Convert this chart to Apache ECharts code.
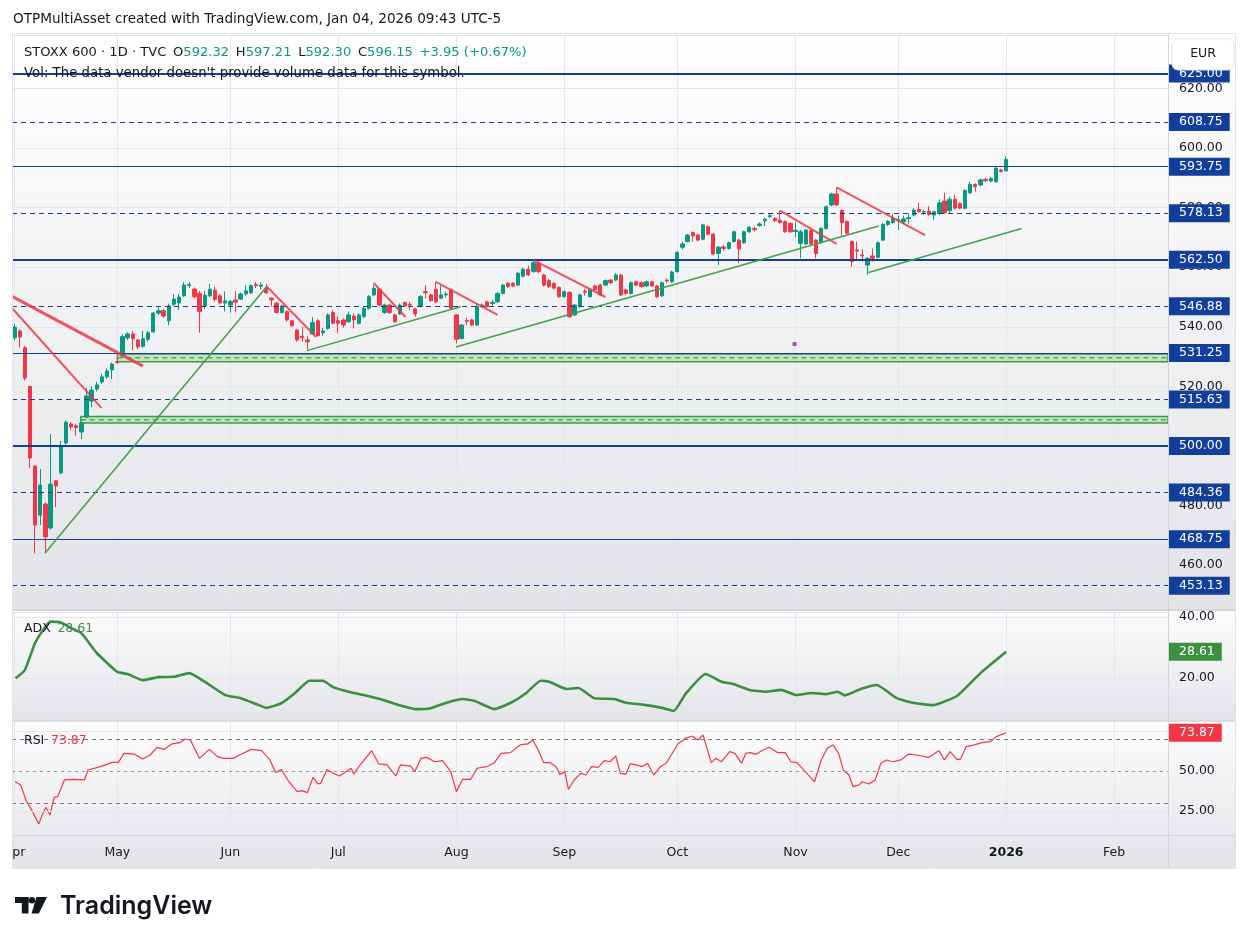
<!DOCTYPE html>
<html>
<head>
<meta charset="utf-8">
<script src="https://cdn.jsdelivr.net/npm/echarts@6/dist/echarts.min.js"></script>
<style>
  html, body { margin: 0; padding: 0; background: #fff; }
  #chart { width: 1248px; height: 944px; }
</style>
</head>
<body>
<div id="chart"></div>
<script>
// daily bars, 2025-04-01 .. 2026-01-02 (TVC calendar)
const opens = [536.3,538.6,533.0,520.0,493.3,476.8,480.5,472.5,488.3,491.0,
  501.0,507.4,506.8,504.7,509.7,515.1,519.1,521.5,523.2,525.5,
  528.3,530.2,536.3,537.6,535.6,533.5,535.8,538.3,544.6,545.4,
  542.0,547.6,548.0,550.4,553.9,552.7,551.2,547.0,550.4,552.3,
  550.4,548.0,547.3,549.0,549.3,551.0,551.4,554.2,553.6,553.0,
  549.6,547.9,544.8,545.1,542.0,538.9,536.8,535.6,537.6,542.0,
  538.0,539.5,544.8,542.0,542.3,541.7,543.6,541.2,543.4,546.2,
  550.7,552.6,544.8,547.3,544.0,544.3,548.1,547.6,546.0,546.8,
  551.8,550.7,552.6,549.6,550.7,552.4,544.0,536.1,542.1,542.3,
  540.6,546.8,548.4,547.8,548.4,551.2,554.6,554.6,554.0,557.0,
  559.3,558.5,561.3,557.4,555.5,554.5,553.2,550.1,551.5,544.0,
  546.8,551.9,550.1,553.7,554.0,554.0,555.7,555.7,557.4,552.4,
  551.2,555.1,554.8,553.7,555.1,553.7,550.4,555.7,555.1,558.5,
  566.7,568.6,571.6,570.8,569.4,573.6,571.1,564.6,566.8,566.3,
  568.6,569.1,568.2,571.9,573.0,574.0,575.6,577.0,576.4,575.8,
  575.3,574.7,572.0,568.0,567.8,572.3,569.1,568.2,573.0,580.9,
  584.6,579.0,575.3,568.6,565.8,564.1,560.7,563.8,563.3,569.1,
  574.3,575.0,575.7,575.2,576.3,577.5,579.4,578.5,578.9,577.5,
  578.0,582.2,579.0,582.8,581.4,579.8,585.0,587.8,587.6,589.5,
  588.9,588.7,592.6,592.32];
const closes = [539.9,536.6,522.8,496.0,473.5,486.9,469.5,487.2,486.6,500.0,
  508.0,506.4,506.2,507.7,516.8,518.8,520.5,523.2,525.2,527.5,
  528.0,536.7,537.6,536.0,533.3,536.0,538.0,544.6,545.4,543.6,
  547.0,549.3,550.0,554.0,554.2,550.1,545.1,550.6,552.6,549.2,
  548.0,548.7,548.5,548.3,551.0,552.1,553.8,553.8,554.0,551.4,
  549.0,544.8,547.0,542.3,540.4,535.6,536.4,535.0,541.4,537.0,
  538.6,544.0,541.2,541.2,540.6,544.0,542.3,544.0,546.2,550.1,
  552.9,547.3,547.3,544.8,541.7,547.3,547.0,547.3,544.3,550.1,
  551.4,548.8,548.4,550.7,551.0,546.2,535.8,540.6,541.9,540.6,
  546.8,547.3,546.8,548.2,551.2,554.0,553.5,553.7,558.0,559.3,
  557.4,561.5,558.5,554.0,553.5,553.0,550.1,551.8,543.4,547.3,
  550.7,551.6,552.4,552.4,550.7,555.5,554.8,557.4,550.7,551.2,
  554.8,554.0,553.5,555.1,553.7,550.1,554.8,555.4,558.4,564.9,
  567.8,570.8,570.5,569.1,574.2,571.1,564.4,566.7,566.3,568.2,
  571.9,566.1,571.9,573.4,572.6,574.5,576.1,577.3,575.6,575.0,
  571.9,571.9,572.4,571.9,572.5,567.8,564.6,573.0,580.3,584.6,
  580.9,575.0,571.4,561.9,565.4,563.8,563.0,563.0,568.2,574.4,
  575.4,576.4,576.0,576.2,576.6,579.2,578.6,578.7,577.7,578.6,
  581.6,578.3,582.8,579.8,579.8,585.7,587.8,587.0,589.3,589.0,
  589.8,593.2,592.1,596.15];
const lows = [535.5,533.0,522.0,492.5,464.0,473.5,464.0,472.0,479.5,490.5,
  500.5,505.5,503.5,502.3,509.5,513.0,518.3,520.8,522.5,522.5,
  527.5,529.5,535.5,532.2,532.5,533.0,535.0,538.0,544.0,543.0,
  540.5,547.0,545.6,550.0,553.0,549.5,538.0,546.0,550.0,548.5,
  547.5,545.1,544.8,545.0,549.0,550.5,551.0,553.0,552.5,551.0,
  546.8,544.5,544.5,541.7,540.0,535.0,535.0,532.4,537.3,536.8,
  537.0,539.0,540.8,537.8,539.7,541.3,539.5,540.8,543.0,545.8,
  550.3,547.0,544.3,544.3,541.3,544.0,546.6,545.6,543.4,546.5,
  549.5,548.4,548.0,549.3,549.8,545.9,534.4,535.8,540.6,540.2,
  540.3,546.4,546.4,547.0,548.0,550.9,553.1,553.3,553.7,556.6,
  557.0,558.2,558.0,553.6,553.0,552.5,549.8,549.8,543.0,543.6,
  546.4,550.5,549.8,552.0,550.3,553.7,554.4,555.3,550.3,550.8,
  550.8,553.6,553.1,553.3,553.3,549.7,550.0,554.8,554.8,558.2,
  566.0,568.3,568.6,568.7,569.0,570.7,564.0,560.7,565.5,565.9,
  568.2,561.3,567.8,571.5,572.0,573.6,573.8,576.5,575.2,574.6,
  571.5,571.5,570.0,563.0,567.4,567.4,563.0,567.8,572.6,580.5,
  580.5,570.3,571.0,560.2,562.4,561.9,557.4,561.9,562.9,568.7,
  573.9,574.6,572.5,574.5,574.5,577.0,578.3,577.5,577.3,575.8,
  577.5,577.9,578.0,579.4,579.4,579.4,584.6,585.4,587.2,588.6,
  588.5,588.3,591.8,592.30];
const highs = [541.0,539.2,533.5,520.2,493.5,492.3,481.0,504.0,488.6,501.7,
  508.6,508.0,507.5,508.0,519.5,520.0,521.5,524.2,526.0,528.0,
  529.0,537.5,538.2,538.6,536.0,538.6,538.6,545.0,546.5,546.0,
  547.8,551.0,551.0,555.0,555.0,553.2,552.0,552.0,554.4,553.5,
  551.0,551.9,549.0,551.9,551.5,554.0,554.2,555.0,555.0,554.4,
  550.0,548.3,547.5,545.5,542.3,539.3,540.0,536.9,543.2,542.5,
  539.6,544.5,545.6,543.4,542.8,545.1,544.5,544.5,546.8,550.6,
  554.0,553.0,547.8,547.8,544.5,547.8,548.5,548.4,546.4,550.6,
  554.0,551.2,555.1,553.9,551.8,552.8,544.3,541.0,543.0,542.7,
  547.9,547.8,548.8,549.0,551.6,554.4,555.0,555.0,558.4,559.8,
  560.5,562.4,562.0,557.8,556.0,555.0,553.6,552.2,552.0,547.7,
  551.2,552.8,552.8,554.1,554.4,555.9,556.1,558.0,557.8,552.8,
  555.2,555.5,555.2,555.5,555.5,554.1,555.2,556.2,558.8,565.5,
  568.6,571.2,572.0,571.2,574.6,574.0,571.5,567.1,567.5,568.6,
  572.3,569.5,572.3,573.8,573.6,575.0,576.6,578.0,576.8,579.0,
  575.7,575.1,575.0,572.5,572.9,572.7,569.5,573.4,580.7,585.0,
  586.8,579.4,575.7,569.0,568.6,566.0,563.4,566.3,568.6,574.8,
  575.8,577.8,577.3,577.3,578.0,579.8,581.6,579.3,580.5,579.0,
  582.8,585.0,583.7,584.3,581.8,586.2,588.7,588.1,589.8,589.9,
  590.4,593.8,593.0,597.21];

// [bar index, value]
const adxPoints = [[0.2,19.9],[2,22.6],[4,31.5],[6,36.8],[7,38.5],[9,38.2],[11,36.4],[13,34.7],[16,28.2],[20,22],
  [22,21.3],[25,19.3],[28,20.3],[31,20.4],[34,21.6],[37,18.8],[41,14.4],[44,13.4],[47,11.5],[49,10.2],
  [52,11.8],[54.6,15.1],[57.4,19.1],[60,19.1],[62,17],[65,15.5],[68,14.4],[71.7,12.8],[74.8,11.1],[77.9,9.8],
  [81,10.1],[84.1,11.9],[87.2,13.1],[89.5,12.5],[93.4,9.8],[96.5,11.8],[99.6,15.1],[102.4,19.1],[104.2,18.7],[107.4,16.4],
  [109.7,16.7],[112.8,13.4],[116.7,13.1],[119,11.9],[122.9,11.1],[126,10.2],[128.3,9.2],[130.6,14.8],[134.5,21.3],[137.6,18.8],
  [139.9,18],[143,16.1],[146.2,15.5],[149.2,16.1],[152.2,14.4],[155.2,15.1],[157.8,14.7],[160.2,15.5],[161.6,14.3],[164.7,16.4],
  [167.8,17.7],[171.7,13.4],[174.8,11.9],[178.7,11.1],[183.4,14.1],[188,21.6],[193,28.61]];
const rsiPoints = [[0.1,43.3],[1.2,41.3],[2.2,31.9],[3.5,24.6],[4.3,19.4],[4.7,16.9],[5.5,23.5],[6.1,27.3],[6.9,22.5],[7.7,33.5],
  [8.4,34],[9.7,44.4],[11.2,44.8],[13.6,44.4],[14.3,50.6],[16.7,52.7],[19,55.4],[20.2,55.4],[21.3,61],[23.3,60.6],
  [24.9,57.5],[26.4,60],[27.7,64.8],[29.1,63.5],[30.6,66.9],[32.2,67.7],[33.2,70],[34.2,69.4],[36,57.9],[37.9,63.5],
  [39.5,59],[40.7,57.9],[42.6,57.9],[43.8,60],[46.1,63.5],[48.1,62.7],[49.7,56.9],[50.8,49],[51.9,51],[53.4,43.3],
  [55,37.1],[55.9,37.7],[57,36.5],[58.1,46],[59,41.9],[59.6,42.3],[60.8,51],[62.1,48.5],[63.2,46.9],[64.3,49],
  [65.5,51.7],[66,48.1],[67,52.7],[68.3,57.9],[69.5,62.7],[70.9,54.4],[72.5,53.8],[74.2,46.9],[75.1,53.8],[77.1,53.1],
  [77.9,49.6],[79.1,57.9],[80.2,58.5],[81.8,55.8],[83.3,56.5],[84.9,49.6],[86,37.1],[87.2,44.8],[88.8,44.8],[90,51.7],
  [91.9,52.7],[93.4,55.2],[94.7,61],[96.5,61.5],[98.4,66.3],[99.9,66.9],[100.9,69.4],[101.9,63.1],[103,55.2],[104.3,55.2],
  [105.4,52.7],[106.1,47.9],[107.1,49.6],[107.8,38.5],[108.9,44.4],[110.2,48.5],[111.2,47.5],[112.3,52.7],[113.6,52.3],[114.8,56.5],
  [115.9,55.8],[117,59.4],[117.9,48.5],[119,48.1],[119.8,54.4],[121,53.8],[122.1,52.7],[123.2,54.8],[124.4,47.5],[125.7,52.7],
  [126.8,54.8],[127.8,60],[129.1,66.9],[130.6,70.4],[131.9,71.9],[133,69.4],[134,72.5],[135.6,55.2],[136.5,57.9],[137.6,55.8],
  [139.2,62.1],[140.2,61],[141.5,54.8],[142.3,61],[143.3,61.5],[144.3,60.4],[145.4,62.7],[146.9,64.8],[148.5,61.5],[150,61.5],
  [151.1,55.8],[152.3,55.2],[153.9,49.6],[155.1,45.4],[155.7,43.3],[157,56.9],[158.2,64.2],[159.3,66.3],[160.4,61],[161.3,50.6],
  [162.4,47.5],[163.2,40.2],[164.4,41.3],[165,43.3],[166.3,41.9],[167.5,44.4],[168.6,54.8],[169.7,56.9],[170.9,55.8],[172.5,56.9],
  [174,60.6],[175.6,60],[177.9,58.5],[179.9,62.7],[181,56.9],[182.1,62.1],[183.4,57.3],[184.1,57.3],[185.2,65.2],[186.8,66.3],
  [188.3,67.7],[189.9,68.3],[191.1,71.5],[193,73.87]];

// drawings
const levelsThick = [625, 562.5, 500];
const levelsThin = [593.75, 531.25, 468.75];
const levelsDashed = [608.75, 578.13, 546.88, 515.63, 484.36, 453.13];
const zones = [
  { from: 20, low: 528.3, mid: 529.6, high: 530.9 },
  { from: 12.9, low: 507.7, mid: 508.8, high: 509.9 }
];
const redLines = [
  [[-0.5, 550.2], [25, 526.8]],
  [[-0.5, 546.3], [16.9, 512.8]],
  [[49, 553.7], [58.7, 536.6]],
  [[69.9, 554.7], [76.1, 543.3]],
  [[82, 555.1], [94, 544.0]],
  [[101, 562.4], [115, 550.0]],
  [[149, 579.0], [160, 567.8]],
  [[160, 586.8], [177.2, 570.8]]
];
const greenLines = [
  [[5.9, 464.0], [49.1, 553.5]],
  [[56.9, 532.0], [86.8, 546.7]],
  [[85.9, 533.2], [168.2, 573.8]],
  [[166.2, 558.2], [196, 573.0]]
];
const marker = [[151.8, 534.2]];
const holidays = ['2025-04-18', '2025-04-21', '2025-12-25', '2025-12-26', '2026-01-01'];
const monthNames = ['Jan','Feb','Mar','Apr','May','Jun','Jul','Aug','Sep','Oct','Nov','Dec'];

const SLOTS = 225;
const dates = [];
for (let d = new Date(Date.UTC(2025, 3, 1)); dates.length < SLOTS; d.setUTCDate(d.getUTCDate() + 1)) {
  const wd = d.getUTCDay();
  const s = d.toISOString().slice(0, 10);
  if (wd === 0 || wd === 6 || holidays.includes(s)) continue;
  dates.push(s);
}
const monthStart = dates.map((s, i) => i === 0 || s.slice(5, 7) !== dates[i - 1].slice(5, 7));

const up = '#089981', down = '#f23645', blue = '#123e9c', gridColor = '#e4e6eb';
const font = '"DejaVu Sans", Roboto, sans-serif';
const fs = 12.5;

const candles = closes.map((c, i) => [opens[i], c, lows[i], highs[i]]);

const boxLabel = (bg, text) => ({
  show: true, position: 'end', distance: 1, formatter: text,
  color: '#fff', backgroundColor: bg, padding: [3, 7, 2, 10], fontSize: fs, fontFamily: font
});
const hidden = { color: 'rgba(0,0,0,0)', width: 0 };
const levelData = []
  .concat(levelsThick.map(v => ({ yAxis: v, lineStyle: { color: blue, width: 2, type: 'solid' }, label: boxLabel(blue, v.toFixed(2)) })))
  .concat(levelsThin.map(v => ({ yAxis: v, lineStyle: { color: blue, width: 1, type: 'solid' }, label: boxLabel(blue, v.toFixed(2)) })))
  .concat(levelsDashed.map(v => ({ yAxis: v, lineStyle: { color: blue, width: 1.2, type: [5, 4] }, label: boxLabel(blue, v.toFixed(2)) })));

function catAxis(gridIndex, showLabels) {
  return {
    type: 'category', gridIndex, data: dates, boundaryGap: true,
    axisLine: { show: false }, axisTick: { show: false },
    axisLabel: {
      show: showLabels, interval: (i) => monthStart[i], margin: 11,
      color: '#131722', fontSize: fs, fontFamily: font,
      formatter: (v) => {
        const m = +v.slice(5, 7);
        return m === 1 ? '{b|' + v.slice(0, 4) + '}' : monthNames[m - 1];
      },
      rich: { b: { fontWeight: 'bold', fontSize: fs, color: '#131722', fontFamily: font } }
    },
    splitLine: { show: true, alignWithLabel: true, interval: (i) => monthStart[i], lineStyle: { color: gridColor } }
  };
}
function valAxis(gridIndex) {
  return { type: 'value', gridIndex, min: -0.5, max: SLOTS - 0.5, show: false };
}
const yLabel = { color: '#131722', fontSize: fs, fontFamily: font, margin: 11, showMinLabel: false, showMaxLabel: false };

const series = [
  {
    type: 'candlestick', xAxisIndex: 0, yAxisIndex: 0, data: candles, barWidth: '74%', z: 4,
    itemStyle: { color: up, color0: down, borderColor: up, borderColor0: down, borderWidth: 1 },
    markLine: { silent: true, symbol: ['none', 'none'], animation: false, data: levelData }
  }
];
zones.forEach(z => series.push({
  type: 'line', xAxisIndex: 1, yAxisIndex: 0, symbol: 'none', silent: true, z: 3,
  data: [[z.from, z.mid], [SLOTS - 0.5, z.mid]],
  lineStyle: { color: '#4caf50', width: 1.5, type: [5, 4] },
  markArea: {
    silent: true,
    itemStyle: { color: 'rgba(76,175,80,0.25)', borderColor: '#3f9b43', borderWidth: 1.5 },
    data: [[{ coord: [z.from, z.low] }, { coord: [SLOTS - 0.5, z.high] }]]
  }
}));
redLines.forEach((l, i) => series.push({
  type: 'line', xAxisIndex: 1, yAxisIndex: 0, data: l, symbol: 'none', silent: true, z: 6,
  lineStyle: { color: '#f23645', width: i === 0 ? 3 : 2, opacity: 0.85 }
}));
greenLines.forEach(l => series.push({
  type: 'line', xAxisIndex: 1, yAxisIndex: 0, data: l, symbol: 'none', silent: true, z: 6,
  lineStyle: { color: '#43a047', width: 1.5 }
}));
series.push({
  type: 'scatter', xAxisIndex: 1, yAxisIndex: 0, data: marker, symbol: 'rect', symbolSize: 4,
  itemStyle: { color: '#9c27b0' }, silent: true
});
series.push({
  type: 'line', xAxisIndex: 3, yAxisIndex: 1, data: adxPoints, symbol: 'none', smooth: 0.15, silent: true,
  lineStyle: { color: '#3b8f3e', width: 2.6 },
  markLine: {
    silent: true, symbol: ['none', 'none'], animation: false,
    data: [{ yAxis: 28.61, lineStyle: hidden, label: boxLabel('#3b8f3e', '28.61') }]
  }
});
series.push({
  type: 'line', xAxisIndex: 5, yAxisIndex: 2, data: rsiPoints, symbol: 'none', silent: true,
  lineStyle: { color: '#f23645', width: 1.2 },
  markLine: {
    silent: true, symbol: ['none', 'none'], animation: false, label: { show: false },
    data: [
      { yAxis: 25, lineStyle: { color: gridColor, width: 1, type: 'solid' } },
      { yAxis: 75, lineStyle: { color: gridColor, width: 1, type: 'solid' } },
      { yAxis: 70, lineStyle: { color: '#787b86', width: 1, type: [4, 4] } },
      { yAxis: 50, lineStyle: { color: '#9598a1', width: 1, type: [3, 4] } },
      { yAxis: 30, lineStyle: { color: '#787b86', width: 1, type: [4, 4] } },
      { yAxis: 73.87, lineStyle: hidden, label: boxLabel('#f23645', '73.87') }
    ]
  }
});

const paneGradient = (a, b) => new echarts.graphic.LinearGradient(0, 0, 0, 1, [
  { offset: 0, color: a }, { offset: 1, color: b }
]);

const graphic = [
  { type: 'rect', z: -10, shape: { x: 12, y: 34, width: 1224, height: 576 }, style: { fill: paneGradient('#ffffff', '#e3e4e8') } },
  { type: 'rect', z: -10, shape: { x: 12, y: 611, width: 1224, height: 110 }, style: { fill: paneGradient('#fcfcfd', '#e4e5e9') } },
  { type: 'rect', z: -10, shape: { x: 12, y: 722, width: 1224, height: 146 }, style: { fill: paneGradient('#fcfcfd', '#e3e4e8') } },
  { type: 'line', z: 50, shape: { x1: 12, y1: 610, x2: 1236, y2: 610 }, style: { stroke: '#d3d5db', lineWidth: 2 } },
  { type: 'line', z: 50, shape: { x1: 12, y1: 721, x2: 1236, y2: 721 }, style: { stroke: '#d3d5db', lineWidth: 1.5 } },
  { type: 'line', z: 50, shape: { x1: 12, y1: 835.5, x2: 1236, y2: 835.5 }, style: { stroke: '#d3d5db', lineWidth: 1 } },
  { type: 'line', z: 50, shape: { x1: 1168.5, y1: 33, x2: 1168.5, y2: 868 }, style: { stroke: '#d3d5db', lineWidth: 1 } },
  { type: 'rect', z: 50, shape: { x: 12.5, y: 33.5, width: 1223, height: 835 }, style: { fill: 'none', stroke: '#e0e3eb', lineWidth: 1 } },
  { type: 'rect', z: 100, shape: { x: 0, y: 838, width: 12, height: 28 }, style: { fill: '#ffffff' } },
  // EUR box
  { type: 'rect', z: 100, shape: { x: 1172, y: 39, width: 62, height: 31, r: 6 }, style: { fill: '#ffffff', stroke: '#e0e3eb', lineWidth: 1 } },
  { type: 'text', z: 101, x: 1203, y: 54, style: { text: 'EUR', fill: '#131722', font: fs + 'px ' + font, align: 'center', verticalAlign: 'middle' } },
  // texts
  { type: 'text', z: 60, x: 13, y: 19, style: { text: 'OTPMultiAsset created with TradingView.com, Jan 04, 2026 09:43 UTC-5', fill: '#131722', font: '13.6px ' + font, verticalAlign: 'middle' } },
  { type: 'text', z: 60, x: 24, y: 53, style: {
      text: '{d|STOXX 600 · 1D · TVC}  {d|O}{g|592.32}  {d|H}{g|597.21}  {d|L}{g|592.30}  {d|C}{g|596.15}  {g|+3.95 (+0.67%)}',
      verticalAlign: 'middle',
      rich: { d: { fill: '#131722', fontSize: 13.1, fontFamily: font }, g: { fill: up, fontSize: 13.1, fontFamily: font } }
  } },
  { type: 'text', z: 60, x: 24, y: 74, style: { text: "Vol: The data vendor doesn't provide volume data for this symbol.", fill: '#131722', font: '13.3px ' + font, verticalAlign: 'middle' } },
  { type: 'text', z: 60, x: 24, y: 629, style: {
      text: '{d|ADX}  {g|28.61}', verticalAlign: 'middle',
      rich: { d: { fill: '#131722', fontSize: fs, fontFamily: font }, g: { fill: '#3b8f3e', fontSize: fs, fontFamily: font } }
  } },
  { type: 'text', z: 60, x: 24, y: 741, style: {
      text: '{d|RSI}  {r|73.87}', verticalAlign: 'middle',
      rich: { d: { fill: '#131722', fontSize: fs, fontFamily: font }, r: { fill: '#f23645', fontSize: fs, fontFamily: font } }
  } },
  // TradingView logo
  { type: 'rect', z: 60, shape: { x: 15, y: 897, width: 13.5, height: 6 }, style: { fill: '#131722' } },
  { type: 'rect', z: 60, shape: { x: 21.8, y: 897, width: 6.7, height: 16.5 }, style: { fill: '#131722' } },
  { type: 'circle', z: 60, shape: { cx: 32, cy: 900.3, r: 3.2 }, style: { fill: '#131722' } },
  { type: 'polygon', z: 60, shape: { points: [[36.5, 897], [47, 897], [38.8, 913.5], [31.5, 913.5]] }, style: { fill: '#131722' } },
  { type: 'text', z: 60, x: 60, y: 906, style: { text: 'TradingView', fill: '#131722', font: '600 25px Inter, Roboto, sans-serif', verticalAlign: 'middle' } }
];

const option = {
  animation: false,
  backgroundColor: '#ffffff',
  textStyle: { fontFamily: font },
  grid: [
    { left: 12, right: 80, top: 35, height: 573 },
    { left: 12, right: 80, top: 612, height: 108 },
    { left: 12, right: 80, top: 722, height: 113 }
  ],
  xAxis: [catAxis(0, false), valAxis(0), catAxis(1, false), valAxis(1), catAxis(2, true), valAxis(2)],
  yAxis: [
    { type: 'value', gridIndex: 0, position: 'right', min: 445.64, max: 637.92, splitNumber: 10, scale: true,
      axisLine: { show: false }, axisTick: { show: false }, axisLabel: Object.assign({ formatter: v => v.toFixed(2) }, yLabel),
      splitLine: { lineStyle: { color: gridColor } } },
    { type: 'value', gridIndex: 1, position: 'right', min: 6.23, max: 41.64, splitNumber: 2, scale: true,
      axisLine: { show: false }, axisTick: { show: false }, axisLabel: Object.assign({ formatter: v => v.toFixed(2) }, yLabel),
      splitLine: { lineStyle: { color: gridColor } } },
    { type: 'value', gridIndex: 2, position: 'right', min: 10, max: 80.625, interval: 5,
      axisLine: { show: false }, axisTick: { show: false },
      axisLabel: Object.assign({}, yLabel, { formatter: v => (v % 25 === 0 ? v.toFixed(2) : '') }),
      splitLine: { show: false } }
  ],
  series,
  graphic
};

const chart = echarts.init(document.getElementById('chart'));
chart.setOption(option);
</script>
</body>
</html>
